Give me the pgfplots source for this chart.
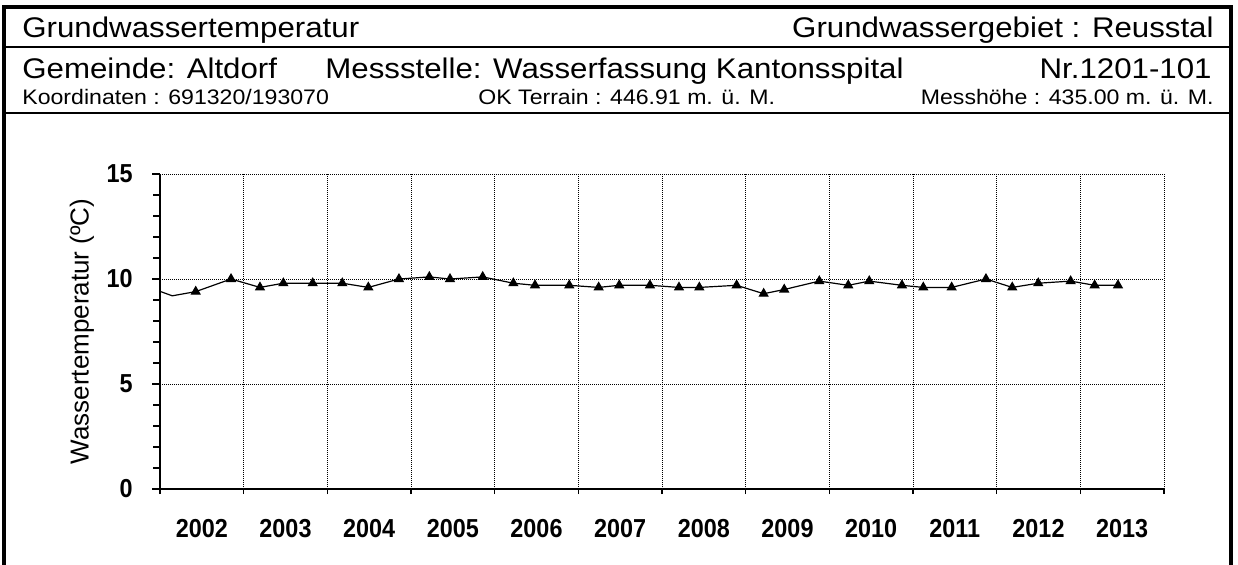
\documentclass[border=0pt]{standalone}
\usepackage{fontspec}
\setmainfont{Liberation Sans}
\newfontfamily\headfont[FakeStretch=1.1]{Liberation Sans}
\newfontfamily\tickfont[FakeStretch=0.9]{Liberation Sans Bold}
\usepackage{pgfplots}
\pgfplotsset{compat=1.18}
\begin{document}
\begin{tikzpicture}
\useasboundingbox (0pt,0pt) rectangle (619pt,-282pt);
\fill[white] (0pt,0pt) rectangle (619pt,-282pt);
% frame
\draw[line width=2pt] (1.85pt,-283pt) -- (1.85pt,-3.3pt) -- (615.4pt,-3.3pt) -- (615.4pt,-283pt);
\draw[line width=1.2pt] (1.85pt,-23.5pt) -- (615.4pt,-23.5pt);
\draw[line width=1.2pt] (1.85pt,-56.5pt) -- (615.4pt,-56.5pt);
% header texts
\node[anchor=base west, inner sep=0pt, font=\headfont\fontsize{14.2}{16}\selectfont] at (11pt,-18.85pt) {Grundwassertemperatur};
\node[anchor=base east, inner sep=0pt, font=\headfont\fontsize{14.2}{16}\selectfont] at (607pt,-18.85pt) {Grundwassergebiet : Reusstal};
\node[anchor=base west, inner sep=0pt, font=\headfont\fontsize{14.2}{16}\selectfont] at (11pt,-39.2pt) {Gemeinde: Altdorf};
\node[anchor=base west, inner sep=0pt, font=\headfont\fontsize{14.2}{16}\selectfont] at (162.5pt,-39.2pt) {Messstelle: Wasserfassung Kantonsspital};
\node[anchor=base east, inner sep=0pt, font=\headfont\fontsize{14.2}{16}\selectfont] at (606pt,-39.2pt) {Nr.1201-101};
\node[anchor=base west, inner sep=0pt, font=\headfont\fontsize{10.5}{12}\selectfont] at (11pt,-52.15pt) {Koordinaten : 691320/193070};
\node[anchor=base west, inner sep=0pt, font=\headfont\fontsize{10.5}{12}\selectfont] at (239pt,-52.15pt) {OK Terrain : 446.91 m. ü. M.};
\node[anchor=base east, inner sep=0pt, font=\headfont\fontsize{10.5}{12}\selectfont] at (607pt,-52.15pt) {Messhöhe : 435.00 m. ü. M.};
\begin{axis}[
  at={(80pt,-244.5pt)}, anchor=south west,
  width=502pt, height=157.5pt, scale only axis,
  xmin=2002, xmax=2014, ymin=0, ymax=15,
  axis lines=left, axis line style={-, line width=0.8pt, black},
  xtick={2002,2003,2004,2005,2006,2007,2008,2009,2010,2011,2012,2013,2014},
  xticklabels={2002,2003,2004,2005,2006,2007,2008,2009,2010,2011,2012,2013},
  x tick label as interval,
  ytick={0,5,10,15}, yticklabels={0,5,10,15},
  minor ytick={1,2,3,4,6,7,8,9,11,12,13,14},
  tick align=outside,
  major tick length=4pt, minor tick length=3.5pt,
  tick style={black, line width=0.6pt},
  xtick style={/pgfplots/major tick length=2.5pt},
  xmajorgrids, ymajorgrids,
  grid style={line width=0.5pt, dash pattern=on 0.5pt off 0.5pt, black},
  tick label style={font=\tickfont\fontsize{13}{15}\selectfont},
  /pgf/number format/assume math mode=true,
  yticklabel style={inner sep=0pt, anchor=east, xshift=-9.5pt},
  xticklabel style={inner sep=0pt, anchor=base, yshift=-20pt},
  ylabel={Wassertemperatur (ºC)},
  ylabel style={font=\fontsize{13}{15}\selectfont, at={(axis description cs:-0.0777,0.5)}, anchor=center},
]
\addplot[black, line width=0.6pt, mark=triangle*, mark size=2.4pt, mark options={solid, fill=black}, mark repeat=1, mark phase=2] coordinates {
(2001.87,9.6)
(2002.147,9.2) (2002.427,9.4) (2002.849,10.0)
(2003.195,9.6) (2003.474,9.8) (2003.825,9.8)
(2004.179,9.8) (2004.490,9.6) (2004.856,10.0)
(2005.219,10.1) (2005.466,10.0) (2005.857,10.1)
(2006.223,9.8) (2006.482,9.7) (2006.892,9.7)
(2007.243,9.6) (2007.489,9.7) (2007.856,9.7)
(2008.203,9.6) (2008.446,9.6) (2008.892,9.7)
(2009.215,9.3) (2009.461,9.5) (2009.880,9.9)
(2010.226,9.7) (2010.477,9.9) (2010.868,9.7)
(2011.123,9.6) (2011.462,9.6) (2011.872,10.0)
(2012.186,9.6) (2012.497,9.8) (2012.884,9.9)
(2013.171,9.7) (2013.450,9.7)
};
\end{axis}
\end{tikzpicture}
\end{document}
